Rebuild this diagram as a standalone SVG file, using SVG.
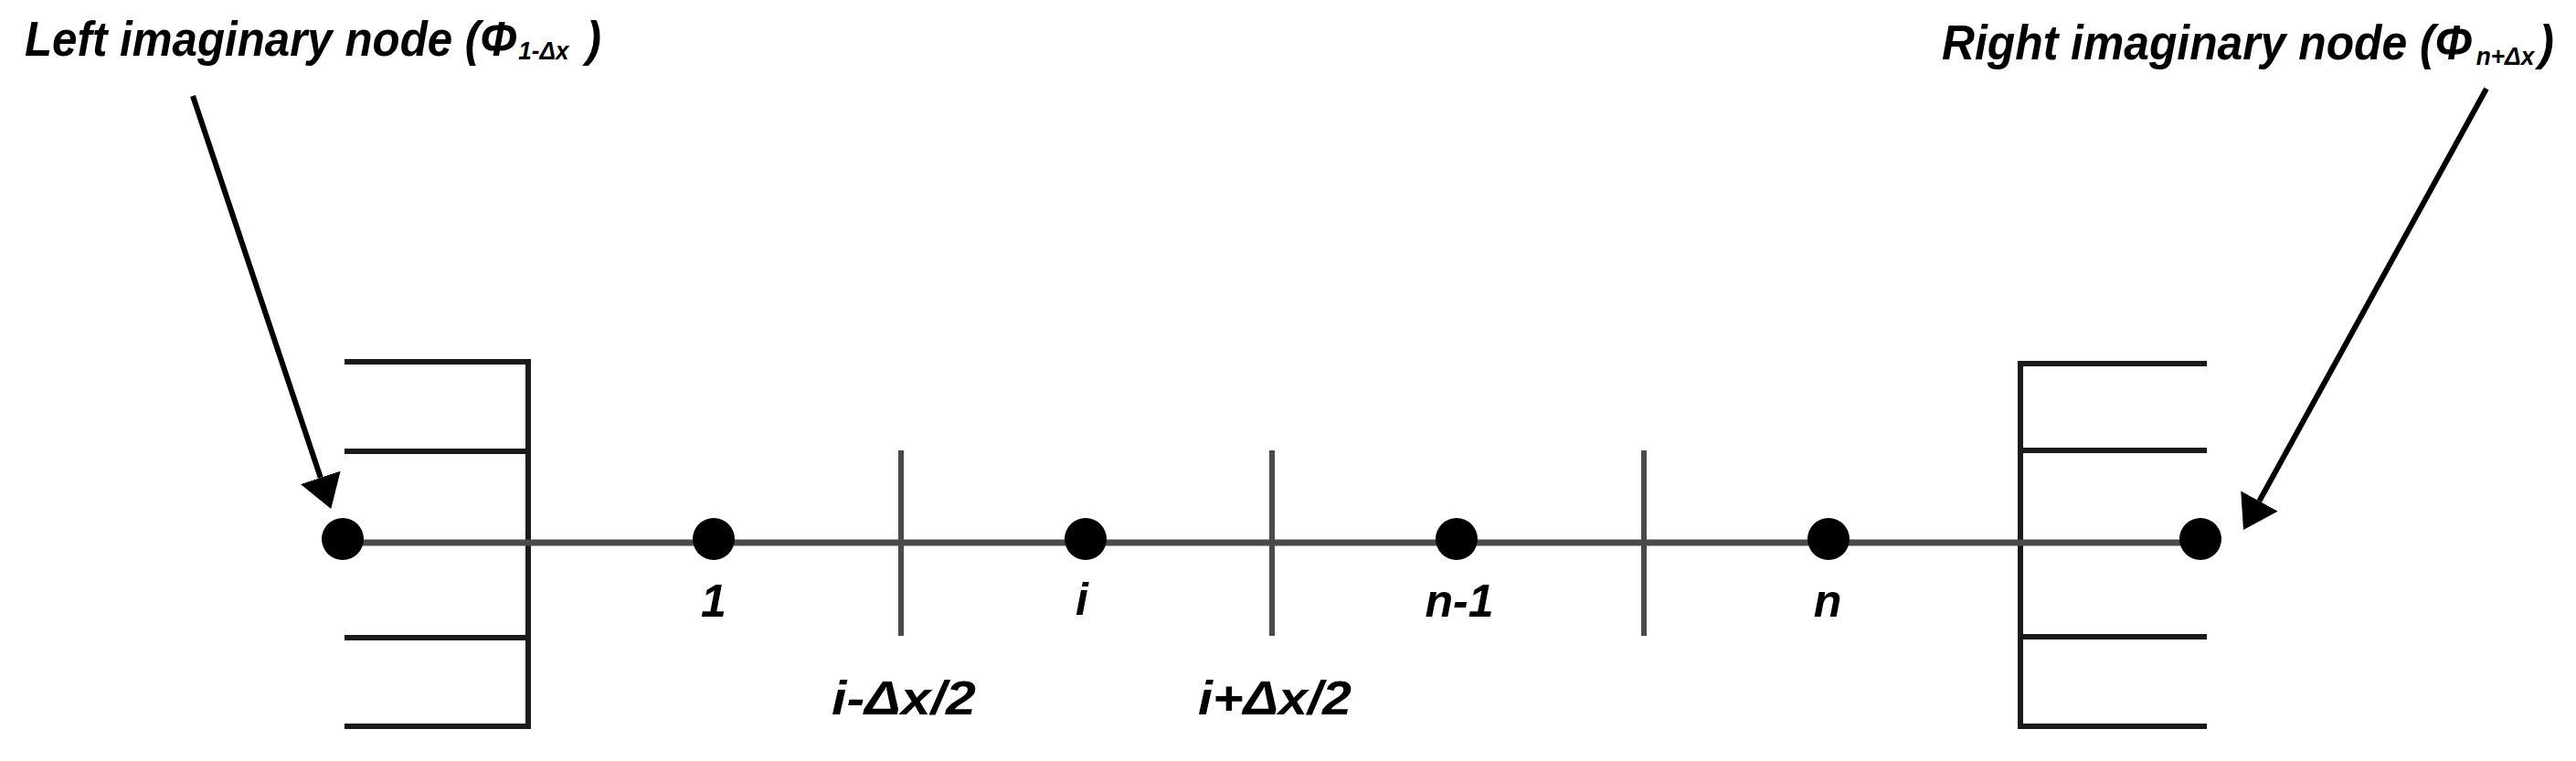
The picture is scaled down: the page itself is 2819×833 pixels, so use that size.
<svg xmlns="http://www.w3.org/2000/svg" width="2819" height="833" viewBox="0 0 2819 833">
  <style>
    .lbl { font-family: "Liberation Sans", Arial, sans-serif; font-style: italic; font-weight: bold; fill: #000; }
    .wall { stroke: #1a1a1a; stroke-width: 6; fill: none; }
    .axis { stroke: #4a4a4a; stroke-width: 7; fill: none; }
    .tick { stroke: #4a4a4a; stroke-width: 6; fill: none; }
    .arrow { stroke: #000; stroke-width: 6; fill: none; }
    .dot { fill: #000; }
  </style>
  <defs>
    <marker id="head" markerUnits="userSpaceOnUse" viewBox="0 0 36 46" markerWidth="36" markerHeight="46" refX="0" refY="23" orient="auto">
      <path d="M0,0 L36,23 L0,46 z" fill="#000"/>
    </marker>
  </defs>
  <rect width="2819" height="833" fill="#fff"/>

  <g id="left-wall">
    <line class="wall" x1="578" y1="393" x2="578" y2="798"/>
    <line class="wall" x1="377" y1="396" x2="578" y2="396"/>
    <line class="wall" x1="377" y1="494" x2="578" y2="494"/>
    <line class="wall" x1="377" y1="698" x2="578" y2="698"/>
    <line class="wall" x1="377" y1="795" x2="578" y2="795"/>
  </g>
  <g id="right-wall">
    <line class="wall" x1="2211" y1="395" x2="2211" y2="798"/>
    <line class="wall" x1="2211" y1="398" x2="2415" y2="398"/>
    <line class="wall" x1="2211" y1="493" x2="2415" y2="493"/>
    <line class="wall" x1="2211" y1="697" x2="2415" y2="697"/>
    <line class="wall" x1="2211" y1="795" x2="2415" y2="795"/>
  </g>

  <g id="connectors">
    <line class="axis" x1="375" y1="594" x2="2408" y2="594"/>
    <line class="tick" x1="986" y1="493" x2="986" y2="696"/>
    <line class="tick" x1="1392" y1="493" x2="1392" y2="696"/>
    <line class="tick" x1="1799" y1="493" x2="1799" y2="696"/>
    <line class="arrow" x1="211" y1="105" x2="350.8" y2="522.8" marker-end="url(#head)"/>
    <line class="arrow" x1="2721" y1="97" x2="2472.4" y2="548.5" marker-end="url(#head)"/>
  </g>

  <g id="node-left-imaginary"><circle class="dot" cx="375" cy="590" r="23"/></g>
  <g id="node-1"><circle class="dot" cx="781" cy="590" r="23"/>
    <text class="lbl" x="781" y="675" font-size="50" text-anchor="middle">1</text></g>
  <g id="node-i"><circle class="dot" cx="1188" cy="590" r="23"/>
    <text class="lbl" x="1184" y="673" font-size="50" text-anchor="middle">i</text></g>
  <g id="node-n-1"><circle class="dot" cx="1594" cy="590" r="23"/>
    <text class="lbl" x="1597" y="675" font-size="50" text-anchor="middle">n-1</text></g>
  <g id="node-n"><circle class="dot" cx="2001" cy="590" r="23"/>
    <text class="lbl" x="2000" y="675" font-size="50" text-anchor="middle">n</text></g>
  <g id="node-right-imaginary"><circle class="dot" cx="2408" cy="590" r="23"/></g>

  <g id="face-labels">
    <text class="lbl" x="989" y="782" font-size="52" text-anchor="middle" textLength="158" lengthAdjust="spacingAndGlyphs">i-Δx/2</text>
    <text class="lbl" x="1395" y="782" font-size="52" text-anchor="middle" textLength="168" lengthAdjust="spacingAndGlyphs">i+Δx/2</text>
  </g>

  <g id="left-label">
    <text class="lbl" transform="translate(27,61) scale(0.93,1)" font-size="53"><tspan x="0" y="0">Left imaginary node (Φ</tspan><tspan x="581" y="4" font-size="28">1-Δx</tspan><tspan x="646" y="0"> )</tspan></text>
  </g>
  <g id="right-label">
    <text class="lbl" transform="translate(2125,65) scale(0.94,1)" font-size="53"><tspan x="0" y="0">Right imaginary node (Φ</tspan><tspan x="622" y="6" font-size="28">n+Δx</tspan><tspan x="695" y="0">)</tspan></text>
  </g>
</svg>
